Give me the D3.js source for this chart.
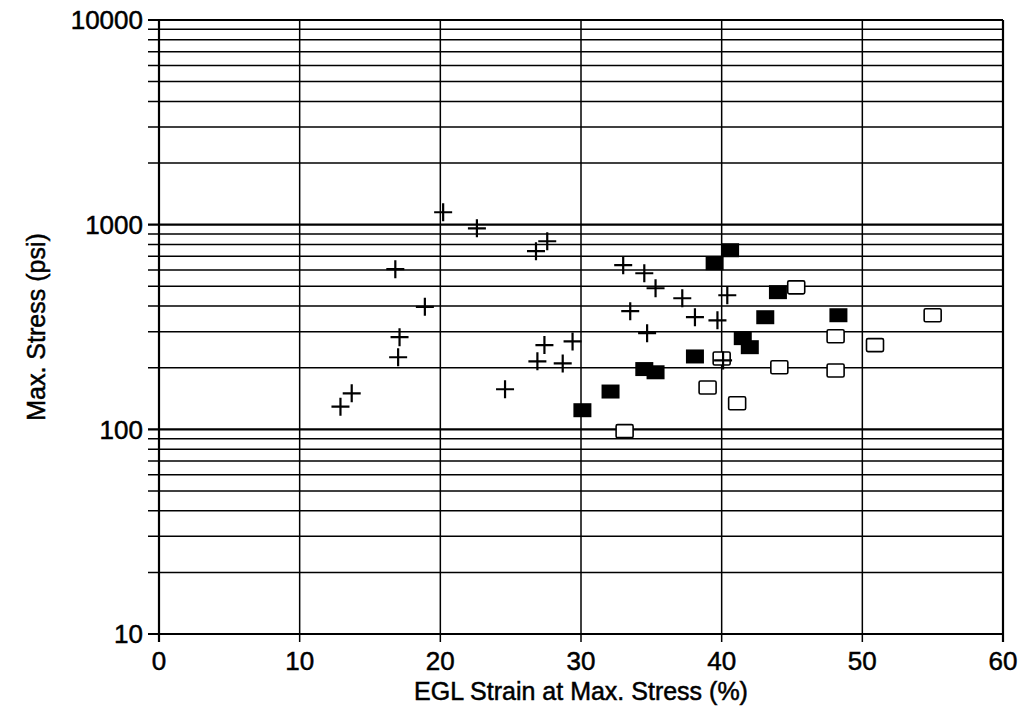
<head>
  <script src="https://cdnjs.cloudflare.com/ajax/libs/d3/7.8.5/d3.min.js"></script>
  <style>
    body { margin: 0; background: #fff }
    text { font-family: "Liberation Sans", Arial, sans-serif; fill: #000; stroke: #000; stroke-width: 0.5 }
  </style>
</head>

<body>
  <div id="chart"></div>

  <script>
    // strain (%) / max stress (psi)
    const plusX = [12.9, 13.7, 16.8, 17.1, 17.0, 18.9, 20.2, 22.6, 24.6, 26.8, 26.9, 27.4, 27.6, 28.7, 29.4,
                   33.0, 33.5, 34.5, 34.7, 35.3, 37.2, 38.1, 39.7, 40.1, 40.4];
    const plusY = [129, 150, 606, 282, 225, 397, 1150, 960, 157, 742, 215, 258, 830, 210, 269,
                   634, 378, 579, 295, 489, 437, 353, 341, 217, 452];

    const filledX = [30.1, 32.1, 34.5, 35.3, 38.1, 39.5, 40.6, 41.5, 42.0, 43.1, 44.0, 48.3];
    const filledY = [124, 153, 197, 190, 227, 648, 750, 279, 252, 353, 468, 361];

    const openX = [33.1, 39.0, 40.0, 41.1, 44.1, 45.3, 48.1, 48.1, 50.9, 55.0];
    const openY = [98, 160, 222, 134, 201, 494, 285, 194, 258, 361];

    const xTicks = [0, 10, 20, 30, 40, 50, 60];
    const yTicks = [10, 100, 1000, 10000];

    const width = 1029, height = 717;
    const margin = { left: 159, right: 26, top: 20, bottom: 83 };

    const svg = d3.select('#chart').append('svg')
      .attr('width', width)
      .attr('height', height);

    const x = d3.scaleLinear().domain([0, 60]).range([margin.left, width - margin.right]);
    const y = d3.scaleLog().domain([10, 10000]).range([height - margin.bottom, margin.top]);

    // every 1..9 step of each decade
    const minor = [];
    for (let d = 10; d < 10000; d *= 10)
      for (let k = 1; k < 10; k++) minor.push(d * k);
    minor.push(10000);

    svg.append('g')
      .selectAll('line')
      .data(minor)
      .join('line')
      .attr('x1', x(0) - 11)
      .attr('x2', x(60))
      .attr('y1', d => y(d))
      .attr('y2', d => y(d))
      .attr('stroke', '#000')
      .attr('stroke-width', d => yTicks.includes(d) ? 2.2 : 1.5);

    svg.append('g')
      .selectAll('line')
      .data(xTicks)
      .join('line')
      .attr('x1', d => x(d))
      .attr('x2', d => x(d))
      .attr('y1', y(10000))
      .attr('y2', y(10) + 8)
      .attr('stroke', '#000')
      .attr('stroke-width', d => (d === 0 || d === 60) ? 2.2 : 1.5);

    // y labels
    svg.append('g')
      .selectAll('text')
      .data(yTicks)
      .join('text')
      .attr('x', x(0) - 16)
      .attr('y', d => y(d))
      .attr('dy', '0.36em')
      .attr('text-anchor', 'end')
      .attr('font-size', 26)
      .text(d => d);

    // x labels
    svg.append('g')
      .selectAll('text')
      .data(xTicks)
      .join('text')
      .attr('x', d => x(d))
      .attr('y', y(10) + 36)
      .attr('text-anchor', 'middle')
      .attr('font-size', 26)
      .text(d => d);

    svg.append('text')
      .attr('x', (x(0) + x(60)) / 2)
      .attr('y', 700)
      .attr('text-anchor', 'middle')
      .attr('font-size', 25)
      .text('EGL Strain at Max. Stress (%)');

    svg.append('text')
      .attr('transform', `translate(45,${(y(10) + y(10000)) / 2}) rotate(-90)`)
      .attr('text-anchor', 'middle')
      .attr('font-size', 25)
      .text('Max. Stress (psi)');

    // markers
    svg.append('g')
      .selectAll('rect')
      .data(d3.zip(openX, openY))
      .join('rect')
      .attr('x', d => x(d[0]) - 8.5)
      .attr('y', d => y(d[1]) - 6.5)
      .attr('width', 17)
      .attr('height', 13)
      .attr('rx', 1.5)
      .attr('fill', '#fff')
      .attr('stroke', '#000')
      .attr('stroke-width', 1.6);

    svg.append('g')
      .selectAll('rect')
      .data(d3.zip(filledX, filledY))
      .join('rect')
      .attr('x', d => x(d[0]) - 9)
      .attr('y', d => y(d[1]) - 7)
      .attr('width', 18)
      .attr('height', 14)
      .attr('fill', '#000');

    svg.append('g')
      .selectAll('path')
      .data(d3.zip(plusX, plusY))
      .join('path')
      .attr('d', d => {
        const cx = x(d[0]), cy = y(d[1]);
        return `M${cx - 9},${cy}H${cx + 9}M${cx},${cy - 9}V${cy + 9}`;
      })
      .attr('stroke', '#000')
      .attr('stroke-width', 2.2)
      .attr('fill', 'none');
  </script>
</body>
